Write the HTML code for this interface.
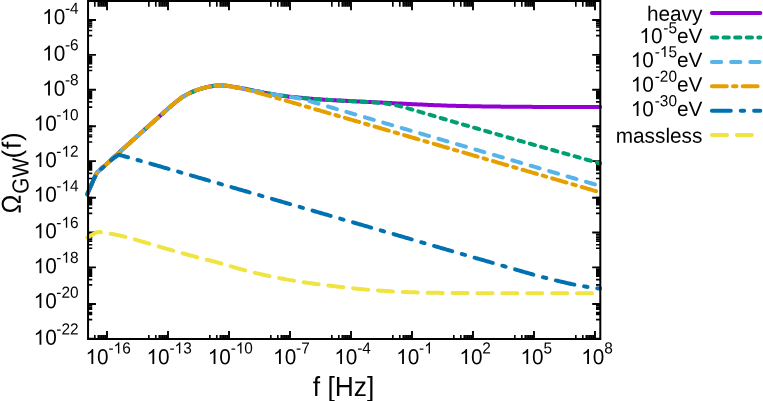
<!DOCTYPE html>
<html><head><meta charset="utf-8"><title>plot</title>
<style>
html,body{margin:0;padding:0;background:#fff;}
body{width:763px;height:401px;overflow:hidden;}
svg{display:block;font-family:"Liberation Sans",sans-serif;font-kerning:none;}
</style></head><body>
<svg width="763" height="401" viewBox="0 0 763 401">
<rect width="763" height="401" fill="#fff"/>
<defs><clipPath id="c"><rect x="84.85" y="1.00" width="517.05" height="338.00"/></clipPath></defs>
<path d="M107.00 339.00L107.00 331.00 M107.00 1.00L107.00 10.30 M168.00 339.00L168.00 331.00 M168.00 1.00L168.00 10.30 M229.00 339.00L229.00 331.00 M229.00 1.00L229.00 10.30 M290.00 339.00L290.00 331.00 M290.00 1.00L290.00 10.30 M351.00 339.00L351.00 331.00 M351.00 1.00L351.00 10.30 M412.00 339.00L412.00 331.00 M412.00 1.00L412.00 10.30 M472.99 339.00L472.99 331.00 M472.99 1.00L472.99 10.30 M533.99 339.00L533.99 331.00 M533.99 1.00L533.99 10.30 M594.99 339.00L594.99 331.00 M594.99 1.00L594.99 10.30 M88.05 338.80L95.95 338.80 M600.30 338.80L592.20 338.80 M88.05 303.96L95.95 303.96 M600.30 303.96L592.20 303.96 M88.05 267.38L95.95 267.38 M600.30 267.38L592.20 267.38 M88.05 232.54L95.95 232.54 M600.30 232.54L592.20 232.54 M88.05 197.69L95.95 197.69 M600.30 197.69L592.20 197.69 M88.05 161.11L95.95 161.11 M600.30 161.11L592.20 161.11 M88.05 126.27L95.95 126.27 M600.30 126.27L592.20 126.27 M88.05 89.68L95.95 89.68 M600.30 89.68L592.20 89.68 M88.05 54.84L95.95 54.84 M600.30 54.84L592.20 54.84 M88.05 20.00L95.95 20.00 M600.30 20.00L592.20 20.00" stroke="#000" stroke-width="1.9" fill="none"/>
<path d="M94.81 339.00L94.81 335.00 M94.81 1.00L94.81 6.80 M98.29 339.00L98.29 335.00 M98.29 1.00L98.29 6.80 M100.03 339.00L100.03 335.00 M100.03 1.00L100.03 6.80 M101.77 339.00L101.77 335.00 M101.77 1.00L101.77 6.80 M103.52 339.00L103.52 335.00 M103.52 1.00L103.52 6.80 M105.26 339.00L105.26 335.00 M105.26 1.00L105.26 6.80 M148.84 339.00L148.84 335.00 M148.84 1.00L148.84 6.80 M155.80 339.00L155.80 335.00 M155.80 1.00L155.80 6.80 M159.29 339.00L159.29 335.00 M159.29 1.00L159.29 6.80 M161.03 339.00L161.03 335.00 M161.03 1.00L161.03 6.80 M162.77 339.00L162.77 335.00 M162.77 1.00L162.77 6.80 M164.51 339.00L164.51 335.00 M164.51 1.00L164.51 6.80 M166.26 339.00L166.26 335.00 M166.26 1.00L166.26 6.80 M209.83 339.00L209.83 335.00 M209.83 1.00L209.83 6.80 M216.80 339.00L216.80 335.00 M216.80 1.00L216.80 6.80 M220.29 339.00L220.29 335.00 M220.29 1.00L220.29 6.80 M222.03 339.00L222.03 335.00 M222.03 1.00L222.03 6.80 M223.77 339.00L223.77 335.00 M223.77 1.00L223.77 6.80 M225.51 339.00L225.51 335.00 M225.51 1.00L225.51 6.80 M227.26 339.00L227.26 335.00 M227.26 1.00L227.26 6.80 M270.83 339.00L270.83 335.00 M270.83 1.00L270.83 6.80 M277.80 339.00L277.80 335.00 M277.80 1.00L277.80 6.80 M281.29 339.00L281.29 335.00 M281.29 1.00L281.29 6.80 M283.03 339.00L283.03 335.00 M283.03 1.00L283.03 6.80 M284.77 339.00L284.77 335.00 M284.77 1.00L284.77 6.80 M286.51 339.00L286.51 335.00 M286.51 1.00L286.51 6.80 M288.25 339.00L288.25 335.00 M288.25 1.00L288.25 6.80 M331.83 339.00L331.83 335.00 M331.83 1.00L331.83 6.80 M338.80 339.00L338.80 335.00 M338.80 1.00L338.80 6.80 M342.29 339.00L342.29 335.00 M342.29 1.00L342.29 6.80 M344.03 339.00L344.03 335.00 M344.03 1.00L344.03 6.80 M345.77 339.00L345.77 335.00 M345.77 1.00L345.77 6.80 M347.51 339.00L347.51 335.00 M347.51 1.00L347.51 6.80 M349.25 339.00L349.25 335.00 M349.25 1.00L349.25 6.80 M392.83 339.00L392.83 335.00 M392.83 1.00L392.83 6.80 M399.80 339.00L399.80 335.00 M399.80 1.00L399.80 6.80 M403.28 339.00L403.28 335.00 M403.28 1.00L403.28 6.80 M405.03 339.00L405.03 335.00 M405.03 1.00L405.03 6.80 M406.77 339.00L406.77 335.00 M406.77 1.00L406.77 6.80 M408.51 339.00L408.51 335.00 M408.51 1.00L408.51 6.80 M410.25 339.00L410.25 335.00 M410.25 1.00L410.25 6.80 M453.83 339.00L453.83 335.00 M453.83 1.00L453.83 6.80 M460.80 339.00L460.80 335.00 M460.80 1.00L460.80 6.80 M464.28 339.00L464.28 335.00 M464.28 1.00L464.28 6.80 M466.03 339.00L466.03 335.00 M466.03 1.00L466.03 6.80 M467.77 339.00L467.77 335.00 M467.77 1.00L467.77 6.80 M469.51 339.00L469.51 335.00 M469.51 1.00L469.51 6.80 M471.25 339.00L471.25 335.00 M471.25 1.00L471.25 6.80 M514.83 339.00L514.83 335.00 M514.83 1.00L514.83 6.80 M521.80 339.00L521.80 335.00 M521.80 1.00L521.80 6.80 M525.28 339.00L525.28 335.00 M525.28 1.00L525.28 6.80 M527.02 339.00L527.02 335.00 M527.02 1.00L527.02 6.80 M528.77 339.00L528.77 335.00 M528.77 1.00L528.77 6.80 M530.51 339.00L530.51 335.00 M530.51 1.00L530.51 6.80 M532.25 339.00L532.25 335.00 M532.25 1.00L532.25 6.80 M575.83 339.00L575.83 335.00 M575.83 1.00L575.83 6.80 M582.80 339.00L582.80 335.00 M582.80 1.00L582.80 6.80 M586.28 339.00L586.28 335.00 M586.28 1.00L586.28 6.80 M588.02 339.00L588.02 335.00 M588.02 1.00L588.02 6.80 M589.77 339.00L589.77 335.00 M589.77 1.00L589.77 6.80 M591.51 339.00L591.51 335.00 M591.51 1.00L591.51 6.80 M593.25 339.00L593.25 335.00 M593.25 1.00L593.25 6.80 M88.05 319.64L92.25 319.64 M600.30 319.64L596.00 319.64 M88.05 314.41L92.25 314.41 M600.30 314.41L596.00 314.41 M88.05 312.67L92.25 312.67 M600.30 312.67L596.00 312.67 M88.05 309.19L92.25 309.19 M600.30 309.19L596.00 309.19 M88.05 307.45L92.25 307.45 M600.30 307.45L596.00 307.45 M88.05 307.45L92.25 307.45 M600.30 307.45L596.00 307.45 M88.05 305.70L92.25 305.70 M600.30 305.70L596.00 305.70 M88.05 303.96L92.25 303.96 M600.30 303.96L596.00 303.96 M88.05 284.80L92.25 284.80 M600.30 284.80L596.00 284.80 M88.05 279.57L92.25 279.57 M600.30 279.57L596.00 279.57 M88.05 276.09L92.25 276.09 M600.30 276.09L596.00 276.09 M88.05 274.35L92.25 274.35 M600.30 274.35L596.00 274.35 M88.05 272.60L92.25 272.60 M600.30 272.60L596.00 272.60 M88.05 270.86L92.25 270.86 M600.30 270.86L596.00 270.86 M88.05 270.86L92.25 270.86 M600.30 270.86L596.00 270.86 M88.05 269.12L92.25 269.12 M600.30 269.12L596.00 269.12 M88.05 248.22L92.25 248.22 M600.30 248.22L596.00 248.22 M88.05 244.73L92.25 244.73 M600.30 244.73L596.00 244.73 M88.05 241.25L92.25 241.25 M600.30 241.25L596.00 241.25 M88.05 239.50L92.25 239.50 M600.30 239.50L596.00 239.50 M88.05 237.76L92.25 237.76 M600.30 237.76L596.00 237.76 M88.05 236.02L92.25 236.02 M600.30 236.02L596.00 236.02 M88.05 234.28L92.25 234.28 M600.30 234.28L596.00 234.28 M88.05 234.28L92.25 234.28 M600.30 234.28L596.00 234.28 M88.05 213.37L92.25 213.37 M600.30 213.37L596.00 213.37 M88.05 208.15L92.25 208.15 M600.30 208.15L596.00 208.15 M88.05 204.66L92.25 204.66 M600.30 204.66L596.00 204.66 M88.05 202.92L92.25 202.92 M600.30 202.92L596.00 202.92 M88.05 201.18L92.25 201.18 M600.30 201.18L596.00 201.18 M88.05 199.44L92.25 199.44 M600.30 199.44L596.00 199.44 M88.05 199.44L92.25 199.44 M600.30 199.44L596.00 199.44 M88.05 197.69L92.25 197.69 M600.30 197.69L596.00 197.69 M88.05 178.53L92.25 178.53 M600.30 178.53L596.00 178.53 M88.05 173.30L92.25 173.30 M600.30 173.30L596.00 173.30 M88.05 169.82L92.25 169.82 M600.30 169.82L596.00 169.82 M88.05 168.08L92.25 168.08 M600.30 168.08L596.00 168.08 M88.05 166.34L92.25 166.34 M600.30 166.34L596.00 166.34 M88.05 164.59L92.25 164.59 M600.30 164.59L596.00 164.59 M88.05 162.85L92.25 162.85 M600.30 162.85L596.00 162.85 M88.05 162.85L92.25 162.85 M600.30 162.85L596.00 162.85 M88.05 141.95L92.25 141.95 M600.30 141.95L596.00 141.95 M88.05 136.72L92.25 136.72 M600.30 136.72L596.00 136.72 M88.05 134.98L92.25 134.98 M600.30 134.98L596.00 134.98 M88.05 131.49L92.25 131.49 M600.30 131.49L596.00 131.49 M88.05 129.75L92.25 129.75 M600.30 129.75L596.00 129.75 M88.05 129.75L92.25 129.75 M600.30 129.75L596.00 129.75 M88.05 128.01L92.25 128.01 M600.30 128.01L596.00 128.01 M88.05 126.27L92.25 126.27 M600.30 126.27L596.00 126.27 M88.05 107.11L92.25 107.11 M600.30 107.11L596.00 107.11 M88.05 101.88L92.25 101.88 M600.30 101.88L596.00 101.88 M88.05 98.39L92.25 98.39 M600.30 98.39L596.00 98.39 M88.05 96.65L92.25 96.65 M600.30 96.65L596.00 96.65 M88.05 94.91L92.25 94.91 M600.30 94.91L596.00 94.91 M88.05 93.17L92.25 93.17 M600.30 93.17L596.00 93.17 M88.05 93.17L92.25 93.17 M600.30 93.17L596.00 93.17 M88.05 91.43L92.25 91.43 M600.30 91.43L596.00 91.43 M88.05 70.52L92.25 70.52 M600.30 70.52L596.00 70.52 M88.05 67.04L92.25 67.04 M600.30 67.04L596.00 67.04 M88.05 63.55L92.25 63.55 M600.30 63.55L596.00 63.55 M88.05 61.81L92.25 61.81 M600.30 61.81L596.00 61.81 M88.05 60.07L92.25 60.07 M600.30 60.07L596.00 60.07 M88.05 58.33L92.25 58.33 M600.30 58.33L596.00 58.33 M88.05 56.58L92.25 56.58 M600.30 56.58L596.00 56.58 M88.05 56.58L92.25 56.58 M600.30 56.58L596.00 56.58 M88.05 35.68L92.25 35.68 M600.30 35.68L596.00 35.68 M88.05 30.45L92.25 30.45 M600.30 30.45L596.00 30.45 M88.05 26.97L92.25 26.97 M600.30 26.97L596.00 26.97 M88.05 25.23L92.25 25.23 M600.30 25.23L596.00 25.23 M88.05 23.48L92.25 23.48 M600.30 23.48L596.00 23.48 M88.05 21.74L92.25 21.74 M600.30 21.74L596.00 21.74 M88.05 21.74L92.25 21.74 M600.30 21.74L596.00 21.74 M88.05 20.00L92.25 20.00 M600.30 20.00L596.00 20.00" stroke="#000" stroke-width="1.65" fill="none"/>
<g fill="none" stroke-width="4" stroke-linecap="round" stroke-linejoin="round" clip-path="url(#c)">
<path d="M87.20 194.40 L88.60 191.09 L90.00 187.84 L91.40 184.65 L92.80 181.52 L94.20 178.45 L95.60 175.45 L97.00 172.50 L98.49 171.20 L99.98 169.90 L101.46 168.60 L102.95 167.31 L104.44 166.01 L105.93 164.62 L107.42 163.21 L108.90 161.82 L110.39 160.43 L111.88 159.06 L113.37 157.69 L114.86 156.33 L116.35 154.98 L117.83 153.63 L119.32 152.29 L120.81 150.96 L122.30 149.63 L123.79 148.29 L125.27 146.95 L126.76 145.61 L128.25 144.27 L129.74 142.93 L131.23 141.60 L132.71 140.26 L134.20 138.92 L135.69 137.58 L137.18 136.24 L138.67 134.90 L140.15 133.56 L141.64 132.23 L143.13 130.90 L144.62 129.57 L146.11 128.24 L147.60 126.92 L149.08 125.59 L150.57 124.27 L152.06 122.95 L153.55 121.62 L155.04 120.30 L156.52 118.98 L158.01 117.66 L159.50 116.34 L160.99 115.02 L162.48 113.69 L163.96 112.35 L165.45 111.02 L166.94 109.69 L168.43 108.37 L169.92 107.07 L171.40 105.78 L172.89 104.49 L174.38 103.22 L175.87 102.00 L177.36 100.82 L178.85 99.66 L180.33 98.55 L181.82 97.52 L183.31 96.56 L184.80 95.66 L186.29 94.81 L187.77 94.02 L189.26 93.28 L190.75 92.58 L192.24 91.93 L193.73 91.31 L195.21 90.71 L196.70 90.14 L198.19 89.60 L199.68 89.10 L201.17 88.65 L202.65 88.24 L204.14 87.85 L205.63 87.49 L207.12 87.14 L208.61 86.79 L210.10 86.48 L211.58 86.21 L213.07 86.00 L214.56 85.81 L216.05 85.65 L217.54 85.53 L219.02 85.45 L220.51 85.38 L222.00 85.35 L223.50 85.48 L224.99 85.63 L226.49 85.80 L227.98 85.98 L229.48 86.18 L230.97 86.39 L232.47 86.65 L233.96 86.92 L235.46 87.19 L236.95 87.44 L238.45 87.68 L239.94 87.93 L241.44 88.19 L242.93 88.46 L244.43 88.76 L245.92 89.06 L247.42 89.38 L248.91 89.68 L250.41 89.98 L251.91 90.28 L253.40 90.57 L254.90 90.87 L256.39 91.16 L257.89 91.46 L259.38 91.75 L260.88 92.04 L262.37 92.32 L263.87 92.61 L265.36 92.88 L266.86 93.15 L268.35 93.42 L269.85 93.67 L271.34 93.93 L272.84 94.18 L274.33 94.43 L275.83 94.68 L277.32 94.92 L278.82 95.16 L280.32 95.39 L281.81 95.62 L283.31 95.84 L284.80 96.06 L286.30 96.26 L287.79 96.46 L289.29 96.64 L290.78 96.81 L292.28 96.97 L293.77 97.11 L295.27 97.25 L296.76 97.39 L298.26 97.53 L299.75 97.68 L301.25 97.83 L302.74 97.99 L304.24 98.15 L305.73 98.31 L307.23 98.46 L308.72 98.61 L310.22 98.73 L311.72 98.85 L313.21 98.96 L314.71 99.06 L316.20 99.16 L317.70 99.25 L319.19 99.35 L320.69 99.44 L322.18 99.54 L323.68 99.64 L325.17 99.73 L326.67 99.82 L328.16 99.91 L329.66 100.00 L331.15 100.08 L332.65 100.16 L334.14 100.24 L335.64 100.32 L337.13 100.40 L338.63 100.48 L340.13 100.56 L341.62 100.63 L343.12 100.71 L344.61 100.79 L346.11 100.87 L347.60 100.94 L349.10 101.02 L350.59 101.09 L352.09 101.17 L353.58 101.24 L355.08 101.31 L356.57 101.39 L358.07 101.46 L359.56 101.53 L361.06 101.60 L362.55 101.67 L364.05 101.74 L365.54 101.81 L367.04 101.88 L368.54 101.95 L370.03 102.02 L371.53 102.09 L373.02 102.16 L374.52 102.23 L376.01 102.30 L377.51 102.38 L379.00 102.45 L380.50 102.52 L381.99 102.60 L383.49 102.68 L384.98 102.76 L386.48 102.84 L387.97 102.92 L389.47 103.00 L390.96 103.08 L392.46 103.16 L393.95 103.24 L395.45 103.32 L396.95 103.39 L398.44 103.47 L399.94 103.55 L401.43 103.62 L402.93 103.69 L404.42 103.77 L405.92 103.84 L407.41 103.91 L408.91 103.98 L410.40 104.06 L411.90 104.13 L413.39 104.20 L414.89 104.27 L416.38 104.33 L417.88 104.40 L419.37 104.47 L420.87 104.54 L422.36 104.61 L423.86 104.68 L425.35 104.74 L426.85 104.81 L428.35 104.88 L429.84 104.94 L431.34 105.01 L432.83 105.07 L434.33 105.13 L435.82 105.19 L437.32 105.25 L438.81 105.31 L440.31 105.37 L441.80 105.43 L443.30 105.49 L444.79 105.54 L446.29 105.59 L447.78 105.64 L449.28 105.69 L450.77 105.73 L452.27 105.77 L453.76 105.80 L455.26 105.84 L456.76 105.88 L458.25 105.92 L459.75 105.95 L461.24 105.99 L462.74 106.02 L464.23 106.06 L465.73 106.09 L467.22 106.12 L468.72 106.15 L470.21 106.18 L471.71 106.21 L473.20 106.24 L474.70 106.27 L476.19 106.29 L477.69 106.32 L479.18 106.35 L480.68 106.37 L482.17 106.39 L483.67 106.42 L485.17 106.44 L486.66 106.46 L488.16 106.48 L489.65 106.50 L491.15 106.52 L492.64 106.54 L494.14 106.55 L495.63 106.57 L497.13 106.59 L498.62 106.60 L500.12 106.62 L501.61 106.63 L503.11 106.65 L504.60 106.66 L506.10 106.68 L507.59 106.69 L509.09 106.70 L510.58 106.71 L512.08 106.73 L513.58 106.74 L515.07 106.75 L516.57 106.76 L518.06 106.77 L519.56 106.78 L521.05 106.79 L522.55 106.80 L524.04 106.81 L525.54 106.82 L527.03 106.84 L528.53 106.85 L530.02 106.86 L531.52 106.87 L533.01 106.88 L534.51 106.89 L536.00 106.90 L537.50 106.91 L538.99 106.92 L540.49 106.93 L541.98 106.94 L543.48 106.95 L544.98 106.96 L546.47 106.96 L547.97 106.97 L549.46 106.98 L550.96 106.98 L552.45 106.99 L553.95 106.99 L555.44 107.00 L556.94 107.00 L558.43 107.00 L559.93 107.00 L561.42 107.00 L562.92 107.00 L564.41 107.00 L565.91 107.00 L567.40 107.00 L568.90 107.00 L570.39 107.00 L571.89 107.00 L573.39 107.00 L574.88 107.00 L576.38 107.00 L577.87 107.00 L579.37 107.00 L580.86 107.00 L582.36 107.00 L583.85 107.00 L585.35 107.00 L586.84 107.00 L588.34 107.00 L589.83 107.00 L591.33 107.00 L592.82 107.00 L594.32 107.00 L595.81 107.00 L597.31 107.00 L598.80 107.00 L600.30 107.00" stroke="#9400D3" />
<path d="M87.20 194.40 L88.60 191.09 L90.00 187.84 L91.40 184.65 L92.80 181.52 L94.20 178.45 L95.60 175.45 L97.00 172.50 L98.49 171.20 L99.98 169.90 L101.46 168.60 L102.95 167.31 L104.44 166.01 L105.93 164.62 L107.42 163.21 L108.90 161.82 L110.39 160.43 L111.88 159.06 L113.37 157.69 L114.86 156.33 L116.35 154.98 L117.83 153.63 L119.32 152.29 L120.81 150.96 L122.30 149.63 L123.79 148.29 L125.27 146.95 L126.76 145.61 L128.25 144.27 L129.74 142.93 L131.23 141.60 L132.71 140.26 L134.20 138.92 L135.69 137.58 L137.18 136.24 L138.67 134.90 L140.15 133.56 L141.64 132.23 L143.13 130.90 L144.62 129.57 L146.11 128.24 L147.60 126.92 L149.08 125.59 L150.57 124.27 L152.06 122.95 L153.55 121.62 L155.04 120.30 L156.52 118.98 L158.01 117.66 L159.50 116.34 L160.99 115.02 L162.48 113.69 L163.96 112.35 L165.45 111.02 L166.94 109.69 L168.43 108.37 L169.92 107.07 L171.40 105.78 L172.89 104.49 L174.38 103.22 L175.87 102.00 L177.36 100.82 L178.85 99.66 L180.33 98.55 L181.82 97.52 L183.31 96.56 L184.80 95.66 L186.29 94.81 L187.77 94.02 L189.26 93.28 L190.75 92.58 L192.24 91.93 L193.73 91.31 L195.21 90.71 L196.70 90.14 L198.19 89.60 L199.68 89.10 L201.17 88.65 L202.65 88.24 L204.14 87.85 L205.63 87.49 L207.12 87.14 L208.61 86.79 L210.10 86.48 L211.58 86.21 L213.07 86.00 L214.56 85.81 L216.05 85.65 L217.54 85.53 L219.02 85.45 L220.51 85.38 L222.00 85.35 L223.50 85.48 L225.00 85.63 L226.50 85.80 L228.00 85.98 L229.50 86.18 L231.00 86.40 L232.50 86.65 L234.00 86.93 L235.50 87.20 L237.00 87.45 L238.50 87.69 L240.00 87.94 L241.50 88.20 L243.00 88.47 L244.50 88.77 L246.00 89.08 L247.50 89.39 L249.00 89.70 L250.50 90.00 L252.00 90.29 L253.50 90.59 L255.00 90.89 L256.50 91.18 L258.00 91.48 L259.50 91.77 L261.00 92.06 L262.50 92.35 L264.00 92.63 L265.50 92.91 L267.00 93.18 L268.50 93.44 L270.00 93.70 L271.50 93.95 L273.00 94.20 L274.50 94.46 L276.00 94.70 L277.50 94.95 L279.00 95.19 L280.50 95.42 L282.00 95.65 L283.50 95.87 L285.00 96.08 L286.50 96.29 L288.00 96.48 L289.50 96.66 L291.00 96.83 L292.50 96.99 L294.00 97.14 L295.50 97.28 L297.00 97.41 L298.50 97.55 L300.00 97.70 L301.50 97.85 L303.00 98.02 L304.50 98.18 L306.00 98.34 L307.50 98.49 L309.00 98.63 L310.50 98.76 L312.00 98.87 L313.50 98.98 L315.00 99.08 L316.50 99.18 L318.00 99.27 L319.50 99.37 L321.00 99.46 L322.50 99.56 L324.00 99.66 L325.50 99.75 L327.00 99.84 L328.50 99.93 L330.00 100.02 L331.50 100.10 L333.00 100.18 L334.50 100.26 L336.00 100.34 L337.50 100.42 L339.00 100.50 L340.50 100.58 L342.00 100.66 L343.50 100.74 L345.00 100.81 L346.50 100.89 L348.00 100.97 L349.50 101.05 L351.00 101.12 L352.50 101.20 L354.00 101.27 L355.50 101.35 L357.00 101.42 L358.50 101.50 L360.00 101.57 L361.50 101.65 L363.00 101.73 L364.50 101.80 L366.00 101.88 L367.50 101.97 L369.00 102.05 L370.50 102.14 L372.00 102.24 L373.50 102.34 L375.00 102.44 L376.50 102.56 L378.00 102.68 L379.50 102.82 L381.00 102.96 L382.50 103.12 L384.00 103.30 L385.50 103.49 L387.00 103.70 L388.50 103.93 L390.00 104.18 L391.50 104.44 L393.00 104.72 L394.50 105.02 L396.00 105.34 L397.50 105.67 L399.00 106.02 L400.50 106.38 L402.00 106.76 L403.50 107.16 L405.00 107.56 L406.50 107.97 L408.00 108.39 L409.50 108.81 L411.00 109.24 L412.50 109.67 L414.00 110.10 L415.50 110.54 L417.00 110.98 L418.50 111.42 L420.00 111.86 L421.50 112.30 L423.00 112.74 L424.50 113.19 L426.00 113.63 L427.50 114.08 L429.00 114.52 L430.50 114.97 L432.00 115.41 L433.50 115.86 L435.00 116.30 L436.50 116.75 L438.00 117.19 L439.50 117.64 L441.00 118.09 L442.50 118.53 L444.00 118.98 L445.50 119.42 L447.00 119.87 L448.50 120.32 L450.00 120.76 L451.50 121.19 L453.00 121.62 L454.50 122.05 L456.00 122.49 L457.50 122.92 L459.00 123.35 L460.50 123.78 L462.00 124.21 L463.50 124.64 L465.00 125.07 L466.50 125.50 L468.00 125.93 L469.50 126.37 L471.00 126.80 L472.50 127.23 L474.00 127.66 L475.50 128.09 L477.00 128.52 L478.50 128.95 L480.00 129.38 L481.50 129.81 L483.00 130.25 L484.50 130.68 L486.00 131.11 L487.50 131.54 L489.00 131.97 L490.50 132.40 L492.00 132.83 L493.50 133.26 L495.00 133.69 L496.50 134.13 L498.00 134.56 L499.50 134.99 L501.00 135.42 L502.50 135.85 L504.00 136.28 L505.50 136.71 L507.00 137.14 L508.50 137.57 L510.00 138.00 L511.50 138.44 L513.00 138.87 L514.50 139.30 L516.00 139.73 L517.50 140.16 L519.00 140.59 L520.50 141.02 L522.00 141.44 L523.50 141.86 L525.00 142.28 L526.50 142.70 L528.00 143.12 L529.50 143.55 L531.00 143.97 L532.50 144.39 L534.00 144.81 L535.50 145.23 L537.00 145.65 L538.50 146.07 L540.00 146.49 L541.50 146.91 L543.00 147.34 L544.50 147.76 L546.00 148.18 L547.50 148.60 L549.00 149.02 L550.50 149.44 L552.00 149.86 L553.50 150.28 L555.00 150.70 L556.50 151.13 L558.00 151.55 L559.50 151.97 L561.00 152.39 L562.50 152.81 L564.00 153.23 L565.50 153.65 L567.00 154.07 L568.50 154.49 L570.00 154.92 L571.50 155.34 L573.00 155.76 L574.50 156.18 L576.00 156.60 L577.50 157.02 L579.00 157.44 L580.50 157.86 L582.00 158.29 L583.50 158.71 L585.00 159.14 L586.50 159.56 L588.00 159.98 L589.50 160.41 L591.00 160.83 L592.50 161.25 L594.00 161.68 L595.50 162.10 L597.00 162.53 L598.50 162.95 L600.30 163.46" stroke="#009E73" stroke-dasharray="5.3 6.3" stroke-dashoffset="-7.2"/>
<path d="M87.20 194.40 L88.60 191.09 L90.00 187.84 L91.40 184.65 L92.80 181.52 L94.20 178.45 L95.60 175.45 L97.00 172.50 L98.49 171.20 L99.98 169.90 L101.46 168.60 L102.95 167.31 L104.44 166.01 L105.93 164.62 L107.42 163.21 L108.90 161.82 L110.39 160.43 L111.88 159.06 L113.37 157.69 L114.86 156.33 L116.35 154.98 L117.83 153.63 L119.32 152.29 L120.81 150.96 L122.30 149.63 L123.79 148.29 L125.27 146.95 L126.76 145.61 L128.25 144.27 L129.74 142.93 L131.23 141.60 L132.71 140.26 L134.20 138.92 L135.69 137.58 L137.18 136.24 L138.67 134.90 L140.15 133.56 L141.64 132.23 L143.13 130.90 L144.62 129.57 L146.11 128.24 L147.60 126.92 L149.08 125.59 L150.57 124.27 L152.06 122.95 L153.55 121.62 L155.04 120.30 L156.52 118.98 L158.01 117.66 L159.50 116.34 L160.99 115.02 L162.48 113.69 L163.96 112.35 L165.45 111.02 L166.94 109.69 L168.43 108.37 L169.92 107.07 L171.40 105.78 L172.89 104.49 L174.38 103.22 L175.87 102.00 L177.36 100.82 L178.85 99.66 L180.33 98.55 L181.82 97.52 L183.31 96.56 L184.80 95.66 L186.29 94.81 L187.77 94.02 L189.26 93.28 L190.75 92.58 L192.24 91.93 L193.73 91.31 L195.21 90.71 L196.70 90.14 L198.19 89.60 L199.68 89.10 L201.17 88.65 L202.65 88.24 L204.14 87.85 L205.63 87.49 L207.12 87.14 L208.61 86.79 L210.10 86.48 L211.58 86.21 L213.07 86.00 L214.56 85.81 L216.05 85.65 L217.54 85.53 L219.02 85.45 L220.51 85.38 L222.00 85.35 L223.50 85.48 L225.00 85.63 L226.50 85.80 L228.00 85.98 L229.50 86.18 L231.00 86.40 L232.50 86.65 L234.00 86.93 L235.50 87.20 L237.00 87.45 L238.50 87.69 L240.00 87.94 L241.50 88.20 L243.00 88.47 L244.50 88.77 L246.00 89.08 L247.50 89.39 L249.00 89.70 L250.50 90.00 L252.00 90.29 L253.50 90.59 L255.00 90.89 L256.50 91.18 L258.00 91.48 L259.50 91.77 L261.00 92.06 L262.50 92.35 L264.00 92.63 L265.50 92.91 L267.00 93.18 L268.50 93.44 L270.00 93.70 L271.50 93.95 L273.00 94.21 L274.50 94.46 L276.00 94.71 L277.50 94.95 L279.00 95.20 L280.50 95.43 L282.00 95.66 L283.50 95.89 L285.00 96.11 L286.50 96.33 L288.00 96.54 L289.50 96.74 L291.00 96.95 L292.50 97.16 L294.00 97.38 L295.50 97.63 L297.00 97.90 L298.50 98.21 L300.00 98.56 L301.50 98.93 L303.00 99.32 L304.50 99.73 L306.00 100.14 L307.50 100.56 L309.00 100.99 L310.50 101.42 L312.00 101.85 L313.50 102.29 L315.00 102.72 L316.50 103.16 L318.00 103.60 L319.50 104.04 L321.00 104.47 L322.50 104.91 L324.00 105.35 L325.50 105.79 L327.00 106.22 L328.50 106.66 L330.00 107.10 L331.50 107.54 L333.00 107.98 L334.50 108.41 L336.00 108.85 L337.50 109.29 L339.00 109.73 L340.50 110.16 L342.00 110.60 L343.50 111.04 L345.00 111.48 L346.50 111.92 L348.00 112.35 L349.50 112.79 L351.00 113.23 L352.50 113.67 L354.00 114.11 L355.50 114.54 L357.00 114.98 L358.50 115.42 L360.00 115.86 L361.50 116.29 L363.00 116.73 L364.50 117.17 L366.00 117.61 L367.50 118.05 L369.00 118.48 L370.50 118.92 L372.00 119.36 L373.50 119.80 L375.00 120.24 L376.50 120.67 L378.00 121.11 L379.50 121.55 L381.00 121.99 L382.50 122.42 L384.00 122.86 L385.50 123.30 L387.00 123.74 L388.50 124.18 L390.00 124.61 L391.50 125.05 L393.00 125.49 L394.50 125.93 L396.00 126.36 L397.50 126.80 L399.00 127.24 L400.50 127.68 L402.00 128.12 L403.50 128.55 L405.00 128.99 L406.50 129.43 L408.00 129.87 L409.50 130.31 L411.00 130.74 L412.50 131.18 L414.00 131.62 L415.50 132.06 L417.00 132.49 L418.50 132.93 L420.00 133.37 L421.50 133.81 L423.00 134.25 L424.50 134.68 L426.00 135.12 L427.50 135.56 L429.00 136.00 L430.50 136.44 L432.00 136.87 L433.50 137.31 L435.00 137.75 L436.50 138.19 L438.00 138.62 L439.50 139.06 L441.00 139.50 L442.50 139.94 L444.00 140.38 L445.50 140.81 L447.00 141.25 L448.50 141.69 L450.00 142.13 L451.50 142.57 L453.00 143.00 L454.50 143.44 L456.00 143.88 L457.50 144.32 L459.00 144.75 L460.50 145.19 L462.00 145.63 L463.50 146.07 L465.00 146.51 L466.50 146.94 L468.00 147.38 L469.50 147.82 L471.00 148.26 L472.50 148.70 L474.00 149.13 L475.50 149.57 L477.00 150.01 L478.50 150.45 L480.00 150.88 L481.50 151.32 L483.00 151.76 L484.50 152.20 L486.00 152.64 L487.50 153.07 L489.00 153.51 L490.50 153.95 L492.00 154.39 L493.50 154.83 L495.00 155.26 L496.50 155.70 L498.00 156.14 L499.50 156.58 L501.00 157.01 L502.50 157.45 L504.00 157.89 L505.50 158.33 L507.00 158.77 L508.50 159.20 L510.00 159.64 L511.50 160.08 L513.00 160.52 L514.50 160.96 L516.00 161.39 L517.50 161.83 L519.00 162.27 L520.50 162.71 L522.00 163.14 L523.50 163.58 L525.00 164.02 L526.50 164.46 L528.00 164.90 L529.50 165.33 L531.00 165.77 L532.50 166.21 L534.00 166.65 L535.50 167.09 L537.00 167.52 L538.50 167.96 L540.00 168.40 L541.50 168.84 L543.00 169.27 L544.50 169.71 L546.00 170.15 L547.50 170.59 L549.00 171.03 L550.50 171.46 L552.00 171.90 L553.50 172.34 L555.00 172.78 L556.50 173.21 L558.00 173.65 L559.50 174.09 L561.00 174.53 L562.50 174.97 L564.00 175.40 L565.50 175.84 L567.00 176.28 L568.50 176.72 L570.00 177.16 L571.50 177.59 L573.00 178.03 L574.50 178.47 L576.00 178.91 L577.50 179.34 L579.00 179.78 L580.50 180.22 L582.00 180.66 L583.50 181.10 L585.00 181.53 L586.50 181.97 L588.00 182.41 L589.50 182.85 L591.00 183.29 L592.50 183.72 L594.00 184.16 L595.50 184.60 L597.00 185.04 L598.50 185.47 L600.30 186.00" stroke="#56B4E9" stroke-dasharray="9.3 9.9"/>
<path d="M87.20 194.40 L88.60 191.09 L90.00 187.84 L91.40 184.65 L92.80 181.52 L94.20 178.45 L95.60 175.45 L97.00 172.50 L98.49 171.20 L99.98 169.90 L101.46 168.60 L102.95 167.31 L104.44 166.01 L105.93 164.62 L107.42 163.21 L108.90 161.82 L110.39 160.43 L111.88 159.06 L113.37 157.69 L114.86 156.33 L116.35 154.98 L117.83 153.63 L119.32 152.29 L120.81 150.96 L122.30 149.63 L123.79 148.29 L125.27 146.95 L126.76 145.61 L128.25 144.27 L129.74 142.93 L131.23 141.60 L132.71 140.26 L134.20 138.92 L135.69 137.58 L137.18 136.24 L138.67 134.90 L140.15 133.56 L141.64 132.23 L143.13 130.90 L144.62 129.57 L146.11 128.24 L147.60 126.92 L149.08 125.59 L150.57 124.27 L152.06 122.95 L153.55 121.62 L155.04 120.30 L156.52 118.98 L158.01 117.66 L159.50 116.34 L160.99 115.02 L162.48 113.69 L163.96 112.35 L165.45 111.02 L166.94 109.69 L168.43 108.37 L169.92 107.07 L171.40 105.78 L172.89 104.49 L174.38 103.22 L175.87 102.00 L177.36 100.82 L178.85 99.66 L180.33 98.55 L181.82 97.52 L183.31 96.56 L184.80 95.66 L186.29 94.81 L187.77 94.02 L189.26 93.28 L190.75 92.58 L192.24 91.93 L193.73 91.31 L195.21 90.71 L196.70 90.14 L198.19 89.60 L199.68 89.10 L201.17 88.65 L202.65 88.24 L204.14 87.85 L205.63 87.49 L207.12 87.14 L208.61 86.79 L210.10 86.48 L211.58 86.21 L213.07 86.00 L214.56 85.81 L216.05 85.65 L217.54 85.53 L219.02 85.45 L220.51 85.38 L222.00 85.35 L223.50 85.50 L225.00 85.66 L226.50 85.84 L228.00 86.04 L229.50 86.25 L231.00 86.49 L232.50 86.77 L234.00 87.07 L235.50 87.36 L237.00 87.65 L238.50 87.94 L240.00 88.24 L241.50 88.56 L243.00 88.90 L244.50 89.25 L246.00 89.62 L247.50 89.99 L249.00 90.37 L250.50 90.75 L252.00 91.13 L253.50 91.52 L255.00 91.91 L256.50 92.31 L258.00 92.72 L259.50 93.12 L261.00 93.53 L262.50 93.95 L264.00 94.36 L265.50 94.78 L267.00 95.21 L268.50 95.63 L270.00 96.06 L271.50 96.48 L273.00 96.91 L274.50 97.34 L276.00 97.78 L277.50 98.21 L279.00 98.64 L280.50 99.08 L282.00 99.52 L283.50 99.95 L285.00 100.39 L286.50 100.82 L288.00 101.26 L289.50 101.70 L291.00 102.14 L292.50 102.57 L294.00 103.01 L295.50 103.45 L297.00 103.89 L298.50 104.32 L300.00 104.76 L301.50 105.20 L303.00 105.64 L304.50 106.08 L306.00 106.51 L307.50 106.95 L309.00 107.39 L310.50 107.83 L312.00 108.26 L313.50 108.70 L315.00 109.14 L316.50 109.58 L318.00 110.02 L319.50 110.45 L321.00 110.89 L322.50 111.33 L324.00 111.77 L325.50 112.20 L327.00 112.64 L328.50 113.08 L330.00 113.52 L331.50 113.96 L333.00 114.39 L334.50 114.83 L336.00 115.27 L337.50 115.71 L339.00 116.15 L340.50 116.58 L342.00 117.02 L343.50 117.46 L345.00 117.90 L346.50 118.33 L348.00 118.77 L349.50 119.21 L351.00 119.65 L352.50 120.09 L354.00 120.52 L355.50 120.96 L357.00 121.40 L358.50 121.84 L360.00 122.28 L361.50 122.71 L363.00 123.15 L364.50 123.59 L366.00 124.03 L367.50 124.46 L369.00 124.90 L370.50 125.34 L372.00 125.78 L373.50 126.22 L375.00 126.65 L376.50 127.09 L378.00 127.53 L379.50 127.97 L381.00 128.41 L382.50 128.84 L384.00 129.28 L385.50 129.72 L387.00 130.16 L388.50 130.59 L390.00 131.03 L391.50 131.47 L393.00 131.91 L394.50 132.35 L396.00 132.78 L397.50 133.22 L399.00 133.66 L400.50 134.10 L402.00 134.54 L403.50 134.97 L405.00 135.41 L406.50 135.85 L408.00 136.29 L409.50 136.72 L411.00 137.16 L412.50 137.60 L414.00 138.04 L415.50 138.48 L417.00 138.91 L418.50 139.35 L420.00 139.79 L421.50 140.23 L423.00 140.67 L424.50 141.10 L426.00 141.54 L427.50 141.98 L429.00 142.42 L430.50 142.85 L432.00 143.29 L433.50 143.73 L435.00 144.17 L436.50 144.61 L438.00 145.04 L439.50 145.48 L441.00 145.92 L442.50 146.36 L444.00 146.80 L445.50 147.23 L447.00 147.67 L448.50 148.11 L450.00 148.55 L451.50 148.98 L453.00 149.42 L454.50 149.86 L456.00 150.30 L457.50 150.74 L459.00 151.17 L460.50 151.61 L462.00 152.05 L463.50 152.49 L465.00 152.92 L466.50 153.36 L468.00 153.80 L469.50 154.24 L471.00 154.68 L472.50 155.11 L474.00 155.55 L475.50 155.99 L477.00 156.43 L478.50 156.87 L480.00 157.30 L481.50 157.74 L483.00 158.18 L484.50 158.62 L486.00 159.05 L487.50 159.49 L489.00 159.93 L490.50 160.37 L492.00 160.81 L493.50 161.24 L495.00 161.68 L496.50 162.12 L498.00 162.56 L499.50 163.00 L501.00 163.43 L502.50 163.87 L504.00 164.31 L505.50 164.75 L507.00 165.18 L508.50 165.62 L510.00 166.06 L511.50 166.50 L513.00 166.94 L514.50 167.37 L516.00 167.81 L517.50 168.25 L519.00 168.69 L520.50 169.13 L522.00 169.56 L523.50 170.00 L525.00 170.44 L526.50 170.88 L528.00 171.31 L529.50 171.75 L531.00 172.19 L532.50 172.63 L534.00 173.07 L535.50 173.50 L537.00 173.94 L538.50 174.38 L540.00 174.82 L541.50 175.26 L543.00 175.69 L544.50 176.13 L546.00 176.57 L547.50 177.01 L549.00 177.44 L550.50 177.88 L552.00 178.32 L553.50 178.76 L555.00 179.20 L556.50 179.63 L558.00 180.07 L559.50 180.51 L561.00 180.95 L562.50 181.39 L564.00 181.82 L565.50 182.26 L567.00 182.70 L568.50 183.14 L570.00 183.57 L571.50 184.01 L573.00 184.45 L574.50 184.89 L576.00 185.33 L577.50 185.76 L579.00 186.20 L580.50 186.64 L582.00 187.08 L583.50 187.52 L585.00 187.95 L586.50 188.39 L588.00 188.83 L589.50 189.27 L591.00 189.70 L592.50 190.14 L594.00 190.58 L595.50 191.02 L597.00 191.46 L598.50 191.89 L600.30 192.42" stroke="#E69F00" stroke-dasharray="14.9 6.2 3.5 6.25" stroke-dashoffset="1.5"/>
<path d="M87.20 194.40 L88.60 191.09 L90.00 187.84 L91.40 184.65 L92.80 181.52 L94.20 178.45 L95.60 175.45 L97.00 172.50 L98.47 171.19 L99.93 169.91 L101.40 168.66 L102.87 167.46 L104.33 166.26 L105.80 165.00 L107.27 163.66 L108.73 162.30 L110.20 160.98 L111.67 159.75 L113.13 158.57 L114.60 157.48 L116.07 156.50 L117.53 155.60 L119.00 154.80 L120.50 155.21 L122.00 155.63 L123.50 156.04 L125.00 156.46 L126.50 156.88 L128.00 157.30 L129.50 157.72 L131.00 158.14 L132.49 158.57 L133.99 158.99 L135.49 159.42 L136.99 159.84 L138.49 160.27 L139.99 160.70 L141.49 161.12 L142.99 161.55 L144.49 161.98 L145.99 162.40 L147.49 162.83 L148.99 163.25 L150.49 163.68 L151.99 164.11 L153.49 164.54 L154.99 164.96 L156.48 165.39 L157.98 165.82 L159.48 166.25 L160.98 166.68 L162.48 167.11 L163.98 167.55 L165.48 167.98 L166.98 168.41 L168.48 168.84 L169.98 169.28 L171.48 169.71 L172.98 170.15 L174.48 170.58 L175.98 171.02 L177.48 171.45 L178.98 171.89 L180.47 172.32 L181.97 172.76 L183.47 173.20 L184.97 173.63 L186.47 174.07 L187.97 174.50 L189.47 174.94 L190.97 175.38 L192.47 175.81 L193.97 176.25 L195.47 176.68 L196.97 177.12 L198.47 177.56 L199.97 177.99 L201.47 178.43 L202.97 178.86 L204.46 179.29 L205.96 179.73 L207.46 180.16 L208.96 180.60 L210.46 181.03 L211.96 181.47 L213.46 181.90 L214.96 182.34 L216.46 182.77 L217.96 183.21 L219.46 183.64 L220.96 184.08 L222.46 184.51 L223.96 184.95 L225.46 185.38 L226.96 185.82 L228.45 186.25 L229.95 186.69 L231.45 187.12 L232.95 187.56 L234.45 187.99 L235.95 188.43 L237.45 188.86 L238.95 189.30 L240.45 189.73 L241.95 190.17 L243.45 190.60 L244.95 191.03 L246.45 191.47 L247.95 191.90 L249.45 192.34 L250.95 192.77 L252.44 193.21 L253.94 193.64 L255.44 194.08 L256.94 194.51 L258.44 194.95 L259.94 195.38 L261.44 195.82 L262.94 196.25 L264.44 196.69 L265.94 197.12 L267.44 197.56 L268.94 197.99 L270.44 198.43 L271.94 198.86 L273.44 199.30 L274.94 199.73 L276.43 200.17 L277.93 200.60 L279.43 201.04 L280.93 201.47 L282.43 201.91 L283.93 202.34 L285.43 202.77 L286.93 203.21 L288.43 203.64 L289.93 204.08 L291.43 204.51 L292.93 204.95 L294.43 205.38 L295.93 205.82 L297.43 206.25 L298.93 206.69 L300.42 207.12 L301.92 207.56 L303.42 207.99 L304.92 208.43 L306.42 208.86 L307.92 209.30 L309.42 209.73 L310.92 210.17 L312.42 210.60 L313.92 211.04 L315.42 211.47 L316.92 211.91 L318.42 212.34 L319.92 212.78 L321.42 213.21 L322.92 213.65 L324.41 214.08 L325.91 214.52 L327.41 214.95 L328.91 215.38 L330.41 215.82 L331.91 216.25 L333.41 216.69 L334.91 217.12 L336.41 217.56 L337.91 217.99 L339.41 218.43 L340.91 218.86 L342.41 219.30 L343.91 219.73 L345.41 220.17 L346.91 220.60 L348.40 221.04 L349.90 221.47 L351.40 221.91 L352.90 222.34 L354.40 222.77 L355.90 223.21 L357.40 223.64 L358.90 224.08 L360.40 224.51 L361.90 224.95 L363.40 225.38 L364.90 225.82 L366.40 226.25 L367.90 226.68 L369.40 227.12 L370.90 227.55 L372.39 227.99 L373.89 228.42 L375.39 228.86 L376.89 229.29 L378.39 229.73 L379.89 230.16 L381.39 230.60 L382.89 231.03 L384.39 231.47 L385.89 231.90 L387.39 232.34 L388.89 232.77 L390.39 233.21 L391.89 233.64 L393.39 234.08 L394.89 234.51 L396.38 234.95 L397.88 235.38 L399.38 235.82 L400.88 236.26 L402.38 236.69 L403.88 237.13 L405.38 237.57 L406.88 238.00 L408.38 238.44 L409.88 238.88 L411.38 239.32 L412.88 239.75 L414.38 240.19 L415.88 240.63 L417.38 241.07 L418.88 241.51 L420.37 241.95 L421.87 242.38 L423.37 242.82 L424.87 243.26 L426.37 243.70 L427.87 244.14 L429.37 244.57 L430.87 245.01 L432.37 245.45 L433.87 245.89 L435.37 246.33 L436.87 246.76 L438.37 247.20 L439.87 247.64 L441.37 248.08 L442.87 248.51 L444.36 248.95 L445.86 249.39 L447.36 249.82 L448.86 250.26 L450.36 250.69 L451.86 251.13 L453.36 251.56 L454.86 252.00 L456.36 252.43 L457.86 252.86 L459.36 253.30 L460.86 253.73 L462.36 254.16 L463.86 254.59 L465.36 255.03 L466.86 255.46 L468.35 255.89 L469.85 256.32 L471.35 256.75 L472.85 257.18 L474.35 257.62 L475.85 258.05 L477.35 258.48 L478.85 258.91 L480.35 259.34 L481.85 259.77 L483.35 260.20 L484.85 260.64 L486.35 261.07 L487.85 261.50 L489.35 261.93 L490.85 262.36 L492.34 262.80 L493.84 263.23 L495.34 263.66 L496.84 264.10 L498.34 264.54 L499.84 264.97 L501.34 265.41 L502.84 265.84 L504.34 266.28 L505.84 266.72 L507.34 267.15 L508.84 267.59 L510.34 268.02 L511.84 268.46 L513.34 268.89 L514.84 269.32 L516.33 269.75 L517.83 270.18 L519.33 270.61 L520.83 271.04 L522.33 271.46 L523.83 271.89 L525.33 272.32 L526.83 272.75 L528.33 273.18 L529.83 273.60 L531.33 274.03 L532.83 274.45 L534.33 274.86 L535.83 275.28 L537.33 275.68 L538.83 276.09 L540.32 276.49 L541.82 276.88 L543.32 277.27 L544.82 277.66 L546.32 278.05 L547.82 278.43 L549.32 278.81 L550.82 279.19 L552.32 279.56 L553.82 279.93 L555.32 280.29 L556.82 280.65 L558.32 281.01 L559.82 281.36 L561.32 281.71 L562.82 282.05 L564.31 282.40 L565.81 282.75 L567.31 283.09 L568.81 283.43 L570.31 283.77 L571.81 284.10 L573.31 284.41 L574.81 284.72 L576.31 285.02 L577.81 285.31 L579.31 285.58 L580.81 285.84 L582.31 286.09 L583.81 286.34 L585.31 286.58 L586.81 286.81 L588.30 287.04 L589.80 287.27 L591.30 287.48 L592.80 287.69 L594.30 287.89 L595.80 288.08 L597.30 288.26 L598.80 288.44 L600.30 288.60" stroke="#0072B2" stroke-dasharray="18.9 9.95 3.4 9.95" stroke-dashoffset="-0.5"/>
<path d="M87.20 237.50 L90.00 236.00 L93.00 234.35 L96.00 232.70 L97.30 232.15 L98.80 232.00 L100.29 232.08 L101.79 232.25 L103.29 232.48 L104.79 232.72 L106.28 232.96 L107.78 233.21 L109.28 233.47 L110.77 233.74 L112.27 234.03 L113.77 234.32 L115.26 234.62 L116.76 234.93 L118.26 235.25 L119.76 235.57 L121.25 235.91 L122.75 236.25 L124.25 236.60 L125.74 236.96 L127.24 237.33 L128.74 237.73 L130.23 238.13 L131.73 238.55 L133.23 238.98 L134.73 239.42 L136.22 239.86 L137.72 240.30 L139.22 240.73 L140.71 241.16 L142.21 241.60 L143.71 242.04 L145.20 242.48 L146.70 242.92 L148.20 243.36 L149.70 243.81 L151.19 244.26 L152.69 244.70 L154.19 245.15 L155.68 245.59 L157.18 246.03 L158.68 246.47 L160.17 246.91 L161.67 247.34 L163.17 247.78 L164.67 248.21 L166.16 248.65 L167.66 249.08 L169.16 249.51 L170.65 249.94 L172.15 250.37 L173.65 250.80 L175.15 251.22 L176.64 251.64 L178.14 252.06 L179.64 252.48 L181.13 252.90 L182.63 253.31 L184.13 253.72 L185.62 254.13 L187.12 254.54 L188.62 254.95 L190.12 255.35 L191.61 255.75 L193.11 256.15 L194.61 256.55 L196.10 256.95 L197.60 257.35 L199.10 257.74 L200.59 258.13 L202.09 258.52 L203.59 258.90 L205.09 259.28 L206.58 259.66 L208.08 260.03 L209.58 260.40 L211.07 260.78 L212.57 261.16 L214.07 261.54 L215.56 261.92 L217.06 262.32 L218.56 262.72 L220.06 263.13 L221.55 263.55 L223.05 263.98 L224.55 264.43 L226.04 264.88 L227.54 265.33 L229.04 265.79 L230.54 266.25 L232.03 266.70 L233.53 267.15 L235.03 267.59 L236.52 268.02 L238.02 268.43 L239.52 268.84 L241.01 269.24 L242.51 269.64 L244.01 270.04 L245.51 270.43 L247.00 270.82 L248.50 271.21 L250.00 271.59 L251.49 271.97 L252.99 272.34 L254.49 272.71 L255.98 273.07 L257.48 273.43 L258.98 273.78 L260.48 274.12 L261.97 274.46 L263.47 274.80 L264.97 275.13 L266.46 275.46 L267.96 275.78 L269.46 276.10 L270.95 276.42 L272.45 276.73 L273.95 277.04 L275.45 277.35 L276.94 277.65 L278.44 277.94 L279.94 278.23 L281.43 278.52 L282.93 278.80 L284.43 279.08 L285.92 279.35 L287.42 279.61 L288.92 279.87 L290.42 280.12 L291.91 280.37 L293.41 280.62 L294.91 280.86 L296.40 281.10 L297.90 281.33 L299.40 281.56 L300.90 281.79 L302.39 282.02 L303.89 282.24 L305.39 282.46 L306.88 282.67 L308.38 282.89 L309.88 283.10 L311.37 283.31 L312.87 283.52 L314.37 283.72 L315.87 283.92 L317.36 284.12 L318.86 284.32 L320.36 284.51 L321.85 284.71 L323.35 284.90 L324.85 285.09 L326.34 285.27 L327.84 285.46 L329.34 285.64 L330.84 285.82 L332.33 286.00 L333.83 286.18 L335.33 286.36 L336.82 286.53 L338.32 286.71 L339.82 286.88 L341.31 287.06 L342.81 287.23 L344.31 287.40 L345.81 287.57 L347.30 287.74 L348.80 287.90 L350.30 288.07 L351.79 288.23 L353.29 288.38 L354.79 288.54 L356.29 288.69 L357.78 288.83 L359.28 288.97 L360.78 289.11 L362.27 289.24 L363.77 289.37 L365.27 289.50 L366.76 289.62 L368.26 289.75 L369.76 289.87 L371.26 289.99 L372.75 290.10 L374.25 290.22 L375.75 290.33 L377.24 290.44 L378.74 290.54 L380.24 290.65 L381.73 290.74 L383.23 290.84 L384.73 290.94 L386.23 291.03 L387.72 291.11 L389.22 291.20 L390.72 291.29 L392.21 291.38 L393.71 291.46 L395.21 291.55 L396.70 291.63 L398.20 291.71 L399.70 291.78 L401.20 291.86 L402.69 291.92 L404.19 291.99 L405.69 292.05 L407.18 292.11 L408.68 292.16 L410.18 292.21 L411.67 292.25 L413.17 292.29 L414.67 292.33 L416.17 292.38 L417.66 292.42 L419.16 292.46 L420.66 292.50 L422.15 292.53 L423.65 292.57 L425.15 292.61 L426.65 292.64 L428.14 292.67 L429.64 292.71 L431.14 292.74 L432.63 292.77 L434.13 292.79 L435.63 292.82 L437.12 292.85 L438.62 292.87 L440.12 292.89 L441.62 292.91 L443.11 292.93 L444.61 292.95 L446.11 292.97 L447.60 292.98 L449.10 292.99 L450.60 293.00 L452.09 293.01 L453.59 293.02 L455.09 293.03 L456.59 293.04 L458.08 293.05 L459.58 293.06 L461.08 293.07 L462.57 293.08 L464.07 293.09 L465.57 293.10 L467.06 293.10 L468.56 293.11 L470.06 293.12 L471.56 293.13 L473.05 293.13 L474.55 293.14 L476.05 293.15 L477.54 293.15 L479.04 293.16 L480.54 293.16 L482.04 293.17 L483.53 293.17 L485.03 293.18 L486.53 293.18 L488.02 293.19 L489.52 293.19 L491.02 293.19 L492.51 293.19 L494.01 293.20 L495.51 293.20 L497.01 293.20 L498.50 293.20 L500.00 293.20 L501.50 293.20 L502.99 293.20 L504.49 293.20 L505.99 293.20 L507.48 293.20 L508.98 293.20 L510.48 293.20 L511.98 293.20 L513.47 293.20 L514.97 293.20 L516.47 293.20 L517.96 293.20 L519.46 293.20 L520.96 293.20 L522.45 293.20 L523.95 293.20 L525.45 293.20 L526.95 293.20 L528.44 293.20 L529.94 293.20 L531.44 293.20 L532.93 293.20 L534.43 293.20 L535.93 293.20 L537.42 293.20 L538.92 293.20 L540.42 293.20 L541.92 293.20 L543.41 293.20 L544.91 293.20 L546.41 293.20 L547.90 293.20 L549.40 293.20 L550.90 293.20 L552.40 293.20 L553.89 293.20 L555.39 293.20 L556.89 293.20 L558.38 293.20 L559.88 293.20 L561.38 293.20 L562.87 293.20 L564.37 293.20 L565.87 293.20 L567.37 293.20 L568.86 293.20 L570.36 293.20 L571.86 293.20 L573.35 293.20 L574.85 293.20 L576.35 293.20 L577.84 293.20 L579.34 293.20 L580.84 293.20 L582.34 293.20 L583.83 293.20 L585.33 293.20 L586.83 293.20 L588.32 293.20 L589.82 293.20 L591.32 293.20 L592.81 293.20 L594.31 293.20 L595.81 293.20 L597.31 293.20 L598.80 293.20 L600.30 293.20" stroke="#F0E442" stroke-dasharray="15.1 9.8"/>
</g>
<g fill="none" stroke-width="4" stroke-linecap="round">
<path d="M711.9 13.00H760.3" stroke="#9400D3" />
<path d="M711.9 37.50H760.3" stroke="#009E73" stroke-dasharray="5.3 6.3"/>
<path d="M711.9 61.90H760.3" stroke="#56B4E9" stroke-dasharray="9.3 9.9"/>
<path d="M711.9 86.30H760.3" stroke="#E69F00" stroke-dasharray="14.9 6.2 3.5 6.25"/>
<path d="M711.9 110.70H760.3" stroke="#0072B2" stroke-dasharray="18.9 9.95 3.4 9.95"/>
<path d="M711.9 135.00H760.3" stroke="#F0E442" stroke-dasharray="15.1 9.8"/>
</g>
<rect x="88.05" y="1.00" width="512.25" height="338.00" fill="none" stroke="#000" stroke-width="2"/>
<g fill="#000" style="opacity:0.999">
<path transform="translate(33.61 344.70) scale(0.010156 -0.010156)" d="M763 0H583V1147Q518 1085 412.5 1023T223 930V1104Q373 1174.5 485.5 1275T645 1470H763Z"/>
<text transform="translate(45.17 344.85) rotate(0.03) scale(1 1.045)" font-size="20.80">0</text>
<text transform="translate(56.34 334.45) rotate(0.03) scale(1 1.045)" font-size="15.40">-22</text>
<path transform="translate(33.61 308.00) scale(0.010156 -0.010156)" d="M763 0H583V1147Q518 1085 412.5 1023T223 930V1104Q373 1174.5 485.5 1275T645 1470H763Z"/>
<text transform="translate(45.17 308.15) rotate(0.03) scale(1 1.045)" font-size="20.80">0</text>
<text transform="translate(56.34 297.75) rotate(0.03) scale(1 1.045)" font-size="15.40">-20</text>
<path transform="translate(33.61 273.20) scale(0.010156 -0.010156)" d="M763 0H583V1147Q518 1085 412.5 1023T223 930V1104Q373 1174.5 485.5 1275T645 1470H763Z"/>
<text transform="translate(45.17 273.35) rotate(0.03) scale(1 1.045)" font-size="20.80">0</text>
<text transform="translate(56.34 262.95) rotate(0.03) scale(1 1.045)" font-size="15.40">-</text>
<path transform="translate(61.47 262.80) scale(0.007520 -0.007520)" d="M763 0H583V1147Q518 1085 412.5 1023T223 930V1104Q373 1174.5 485.5 1275T645 1470H763Z"/>
<text transform="translate(70.04 262.95) rotate(0.03) scale(1 1.045)" font-size="15.40">8</text>
<path transform="translate(33.61 238.20) scale(0.010156 -0.010156)" d="M763 0H583V1147Q518 1085 412.5 1023T223 930V1104Q373 1174.5 485.5 1275T645 1470H763Z"/>
<text transform="translate(45.17 238.35) rotate(0.03) scale(1 1.045)" font-size="20.80">0</text>
<text transform="translate(56.34 227.95) rotate(0.03) scale(1 1.045)" font-size="15.40">-</text>
<path transform="translate(61.47 227.80) scale(0.007520 -0.007520)" d="M763 0H583V1147Q518 1085 412.5 1023T223 930V1104Q373 1174.5 485.5 1275T645 1470H763Z"/>
<text transform="translate(70.04 227.95) rotate(0.03) scale(1 1.045)" font-size="15.40">6</text>
<path transform="translate(33.61 201.60) scale(0.010156 -0.010156)" d="M763 0H583V1147Q518 1085 412.5 1023T223 930V1104Q373 1174.5 485.5 1275T645 1470H763Z"/>
<text transform="translate(45.17 201.75) rotate(0.03) scale(1 1.045)" font-size="20.80">0</text>
<text transform="translate(56.34 191.35) rotate(0.03) scale(1 1.045)" font-size="15.40">-</text>
<path transform="translate(61.47 191.20) scale(0.007520 -0.007520)" d="M763 0H583V1147Q518 1085 412.5 1023T223 930V1104Q373 1174.5 485.5 1275T645 1470H763Z"/>
<text transform="translate(70.04 191.35) rotate(0.03) scale(1 1.045)" font-size="15.40">4</text>
<path transform="translate(33.61 167.10) scale(0.010156 -0.010156)" d="M763 0H583V1147Q518 1085 412.5 1023T223 930V1104Q373 1174.5 485.5 1275T645 1470H763Z"/>
<text transform="translate(45.17 167.25) rotate(0.03) scale(1 1.045)" font-size="20.80">0</text>
<text transform="translate(56.34 156.85) rotate(0.03) scale(1 1.045)" font-size="15.40">-</text>
<path transform="translate(61.47 156.70) scale(0.007520 -0.007520)" d="M763 0H583V1147Q518 1085 412.5 1023T223 930V1104Q373 1174.5 485.5 1275T645 1470H763Z"/>
<text transform="translate(70.04 156.85) rotate(0.03) scale(1 1.045)" font-size="15.40">2</text>
<path transform="translate(33.61 130.50) scale(0.010156 -0.010156)" d="M763 0H583V1147Q518 1085 412.5 1023T223 930V1104Q373 1174.5 485.5 1275T645 1470H763Z"/>
<text transform="translate(45.17 130.65) rotate(0.03) scale(1 1.045)" font-size="20.80">0</text>
<text transform="translate(56.34 120.25) rotate(0.03) scale(1 1.045)" font-size="15.40">-</text>
<path transform="translate(61.47 120.10) scale(0.007520 -0.007520)" d="M763 0H583V1147Q518 1085 412.5 1023T223 930V1104Q373 1174.5 485.5 1275T645 1470H763Z"/>
<text transform="translate(70.04 120.25) rotate(0.03) scale(1 1.045)" font-size="15.40">0</text>
<path transform="translate(42.17 95.50) scale(0.010156 -0.010156)" d="M763 0H583V1147Q518 1085 412.5 1023T223 930V1104Q373 1174.5 485.5 1275T645 1470H763Z"/>
<text transform="translate(53.74 95.65) rotate(0.03) scale(1 1.045)" font-size="20.80">0</text>
<text transform="translate(64.91 85.25) rotate(0.03) scale(1 1.045)" font-size="15.40">-8</text>
<path transform="translate(42.17 60.50) scale(0.010156 -0.010156)" d="M763 0H583V1147Q518 1085 412.5 1023T223 930V1104Q373 1174.5 485.5 1275T645 1470H763Z"/>
<text transform="translate(53.74 60.65) rotate(0.03) scale(1 1.045)" font-size="20.80">0</text>
<text transform="translate(64.91 50.25) rotate(0.03) scale(1 1.045)" font-size="15.40">-6</text>
<path transform="translate(42.17 24.00) scale(0.010156 -0.010156)" d="M763 0H583V1147Q518 1085 412.5 1023T223 930V1104Q373 1174.5 485.5 1275T645 1470H763Z"/>
<text transform="translate(53.74 24.15) rotate(0.03) scale(1 1.045)" font-size="20.80">0</text>
<text transform="translate(64.91 13.75) rotate(0.03) scale(1 1.045)" font-size="15.40">-4</text>
<path transform="translate(85.50 364.00) scale(0.010156 -0.010156)" d="M763 0H583V1147Q518 1085 412.5 1023T223 930V1104Q373 1174.5 485.5 1275T645 1470H763Z"/>
<text transform="translate(97.07 364.15) rotate(0.03) scale(1 1.045)" font-size="20.80">0</text>
<text transform="translate(108.44 353.55) rotate(0.03) scale(1 1.045)" font-size="15.40">-</text>
<path transform="translate(113.57 353.40) scale(0.007520 -0.007520)" d="M763 0H583V1147Q518 1085 412.5 1023T223 930V1104Q373 1174.5 485.5 1275T645 1470H763Z"/>
<text transform="translate(122.13 353.55) rotate(0.03) scale(1 1.045)" font-size="15.40">6</text>
<path transform="translate(146.50 364.00) scale(0.010156 -0.010156)" d="M763 0H583V1147Q518 1085 412.5 1023T223 930V1104Q373 1174.5 485.5 1275T645 1470H763Z"/>
<text transform="translate(158.07 364.15) rotate(0.03) scale(1 1.045)" font-size="20.80">0</text>
<text transform="translate(169.44 353.55) rotate(0.03) scale(1 1.045)" font-size="15.40">-</text>
<path transform="translate(174.57 353.40) scale(0.007520 -0.007520)" d="M763 0H583V1147Q518 1085 412.5 1023T223 930V1104Q373 1174.5 485.5 1275T645 1470H763Z"/>
<text transform="translate(183.13 353.55) rotate(0.03) scale(1 1.045)" font-size="15.40">3</text>
<path transform="translate(207.70 364.00) scale(0.010156 -0.010156)" d="M763 0H583V1147Q518 1085 412.5 1023T223 930V1104Q373 1174.5 485.5 1275T645 1470H763Z"/>
<text transform="translate(219.27 364.15) rotate(0.03) scale(1 1.045)" font-size="20.80">0</text>
<text transform="translate(230.64 353.55) rotate(0.03) scale(1 1.045)" font-size="15.40">-</text>
<path transform="translate(235.77 353.40) scale(0.007520 -0.007520)" d="M763 0H583V1147Q518 1085 412.5 1023T223 930V1104Q373 1174.5 485.5 1275T645 1470H763Z"/>
<text transform="translate(244.33 353.55) rotate(0.03) scale(1 1.045)" font-size="15.40">0</text>
<path transform="translate(273.08 364.00) scale(0.010156 -0.010156)" d="M763 0H583V1147Q518 1085 412.5 1023T223 930V1104Q373 1174.5 485.5 1275T645 1470H763Z"/>
<text transform="translate(284.65 364.15) rotate(0.03) scale(1 1.045)" font-size="20.80">0</text>
<text transform="translate(296.02 353.55) rotate(0.03) scale(1 1.045)" font-size="15.40">-7</text>
<path transform="translate(334.28 364.00) scale(0.010156 -0.010156)" d="M763 0H583V1147Q518 1085 412.5 1023T223 930V1104Q373 1174.5 485.5 1275T645 1470H763Z"/>
<text transform="translate(345.85 364.15) rotate(0.03) scale(1 1.045)" font-size="20.80">0</text>
<text transform="translate(357.22 353.55) rotate(0.03) scale(1 1.045)" font-size="15.40">-4</text>
<path transform="translate(396.18 364.00) scale(0.010156 -0.010156)" d="M763 0H583V1147Q518 1085 412.5 1023T223 930V1104Q373 1174.5 485.5 1275T645 1470H763Z"/>
<text transform="translate(407.75 364.15) rotate(0.03) scale(1 1.045)" font-size="20.80">0</text>
<text transform="translate(419.12 353.55) rotate(0.03) scale(1 1.045)" font-size="15.40">-</text>
<path transform="translate(424.24 353.40) scale(0.007520 -0.007520)" d="M763 0H583V1147Q518 1085 412.5 1023T223 930V1104Q373 1174.5 485.5 1275T645 1470H763Z"/>
<path transform="translate(459.34 364.00) scale(0.010156 -0.010156)" d="M763 0H583V1147Q518 1085 412.5 1023T223 930V1104Q373 1174.5 485.5 1275T645 1470H763Z"/>
<text transform="translate(470.91 364.15) rotate(0.03) scale(1 1.045)" font-size="20.80">0</text>
<text transform="translate(482.28 353.55) rotate(0.03) scale(1 1.045)" font-size="15.40">2</text>
<path transform="translate(520.44 364.00) scale(0.010156 -0.010156)" d="M763 0H583V1147Q518 1085 412.5 1023T223 930V1104Q373 1174.5 485.5 1275T645 1470H763Z"/>
<text transform="translate(532.01 364.15) rotate(0.03) scale(1 1.045)" font-size="20.80">0</text>
<text transform="translate(543.38 353.55) rotate(0.03) scale(1 1.045)" font-size="15.40">5</text>
<path transform="translate(581.24 364.00) scale(0.010156 -0.010156)" d="M763 0H583V1147Q518 1085 412.5 1023T223 930V1104Q373 1174.5 485.5 1275T645 1470H763Z"/>
<text transform="translate(592.81 364.15) rotate(0.03) scale(1 1.045)" font-size="20.80">0</text>
<text transform="translate(604.18 353.55) rotate(0.03) scale(1 1.045)" font-size="15.40">8</text>
<text transform="translate(343.6 396.0) rotate(0.03) scale(1 1.045)" text-anchor="middle" font-size="26.4">f [Hz]</text>
<text transform="translate(20.8 213.6) rotate(-90.03) scale(0.97 1.055)" font-size="26">Ω</text>
<text transform="translate(28.5 193.8) rotate(-90.03) scale(1 1.12)" font-size="20.8">GW</text>
<text transform="translate(20.8 158.6) rotate(-90.03) scale(1 1.02)" font-size="26" letter-spacing="0.9">(f)</text>
<text x="702.40" y="20.80" transform="rotate(0.03 702.4 20.8)" text-anchor="end" font-size="20.8">heavy</text>
<path transform="translate(639.33 43.00) scale(0.010156 -0.010156)" d="M763 0H583V1147Q518 1085 412.5 1023T223 930V1104Q373 1174.5 485.5 1275T645 1470H763Z"/>
<text transform="translate(650.90 43.15) rotate(0.03) scale(1 1.045)" font-size="20.80">0</text>
<text transform="translate(663.27 33.15) rotate(0.03) scale(1 1.045)" font-size="15.40">-5</text>
<text transform="translate(676.96 43.00) rotate(0.03) scale(1 1.000)" font-size="20.80">eV</text>
<path transform="translate(630.76 67.10) scale(0.010156 -0.010156)" d="M763 0H583V1147Q518 1085 412.5 1023T223 930V1104Q373 1174.5 485.5 1275T645 1470H763Z"/>
<text transform="translate(642.33 67.25) rotate(0.03) scale(1 1.045)" font-size="20.80">0</text>
<text transform="translate(654.70 57.25) rotate(0.03) scale(1 1.045)" font-size="15.40">-</text>
<path transform="translate(659.83 57.10) scale(0.007520 -0.007520)" d="M763 0H583V1147Q518 1085 412.5 1023T223 930V1104Q373 1174.5 485.5 1275T645 1470H763Z"/>
<text transform="translate(668.39 57.25) rotate(0.03) scale(1 1.045)" font-size="15.40">5</text>
<text transform="translate(676.96 67.10) rotate(0.03) scale(1 1.000)" font-size="20.80">eV</text>
<path transform="translate(630.76 91.60) scale(0.010156 -0.010156)" d="M763 0H583V1147Q518 1085 412.5 1023T223 930V1104Q373 1174.5 485.5 1275T645 1470H763Z"/>
<text transform="translate(642.33 91.75) rotate(0.03) scale(1 1.045)" font-size="20.80">0</text>
<text transform="translate(654.70 81.75) rotate(0.03) scale(1 1.045)" font-size="15.40">-20</text>
<text transform="translate(676.96 91.60) rotate(0.03) scale(1 1.000)" font-size="20.80">eV</text>
<path transform="translate(630.76 116.00) scale(0.010156 -0.010156)" d="M763 0H583V1147Q518 1085 412.5 1023T223 930V1104Q373 1174.5 485.5 1275T645 1470H763Z"/>
<text transform="translate(642.33 116.15) rotate(0.03) scale(1 1.045)" font-size="20.80">0</text>
<text transform="translate(654.70 106.15) rotate(0.03) scale(1 1.045)" font-size="15.40">-30</text>
<text transform="translate(676.96 116.00) rotate(0.03) scale(1 1.000)" font-size="20.80">eV</text>
<text x="702.40" y="142.80" transform="rotate(0.03 702.4 142.8)" text-anchor="end" font-size="20.8">massless</text>
</g>
</svg>
</body></html>
